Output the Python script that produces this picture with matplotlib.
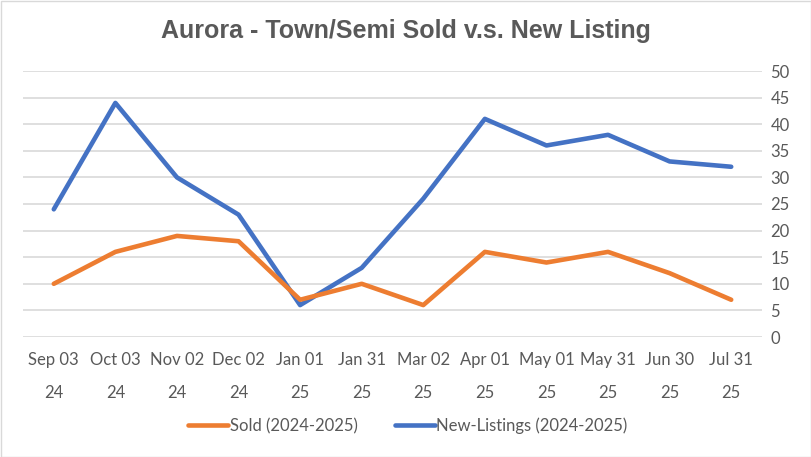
import matplotlib
matplotlib.use("Agg")
import matplotlib.pyplot as plt
from matplotlib.lines import Line2D
from matplotlib.patches import Rectangle

categories = ["Sep 03\n24", "Oct 03\n24", "Nov 02\n24", "Dec 02\n24", "Jan 01\n25", "Jan 31\n25",
              "Mar 02\n25", "Apr 01\n25", "May 01\n25", "May 31\n25", "Jun 30\n25", "Jul 31\n25"]
sold = [10, 16, 19, 18, 7, 10, 6, 16, 14, 16, 12, 7]
new_listings = [24, 44, 30, 23, 6, 13, 26, 41, 36, 38, 33, 32]
yticks = [0, 5, 10, 15, 20, 25, 30, 35, 40, 45, 50]

W, H = 812, 457
fig = plt.figure(figsize=(W / 100, H / 100), dpi=100)
fig.patch.set_facecolor("white")
fig.patches.append(Rectangle((0.5 / W, 0.5 / H), 1 - 1.5 / W, 1 - 1.5 / H, transform=fig.transFigure,
                             fill=False, edgecolor="#D9D9D9", linewidth=1))

ax = fig.add_axes([23 / W, 1 - 337 / H, (762 - 23) / W, (337 - 71) / H])
x = list(range(len(categories)))
ax.plot(x, new_listings, color="#4472C4", linewidth=3.3, solid_capstyle="round", solid_joinstyle="round", zorder=3)
ax.plot(x, sold, color="#ED7D31", linewidth=3.3, solid_capstyle="round", solid_joinstyle="round", zorder=3)

ax.set_xlim(-0.5, len(categories) - 0.5)
ax.set_ylim(0, 50)
ax.set_yticks(yticks)
ax.yaxis.tick_right()
ax.grid(axis="y", color="#D9D9D9", linewidth=1.2)
ax.set_axisbelow(True)
for s in ax.spines.values():
    s.set_visible(False)
ax.tick_params(axis="both", length=0, colors="#595959", labelsize=12)
ax.tick_params(axis="y", pad=6)
ax.set_xticks(x)
ax.set_xticklabels(categories, linespacing=2.25, fontfamily="Lato")
for lab in ax.get_yticklabels():
    lab.set_fontfamily("Lato")
ax.tick_params(axis="x", pad=11)

fig.text(406 / W, 1 - 31 / H, "Aurora - Town/Semi Sold v.s. New Listing", ha="center", va="center",
         fontsize=18, fontweight="bold", color="#595959", fontfamily="Liberation Sans")

handles = [Line2D([0], [0], color="#ED7D31", linewidth=3.3, solid_capstyle="round"),
           Line2D([0], [0], color="#4472C4", linewidth=3.3, solid_capstyle="round")]
leg = fig.legend(handles, ["Sold (2024-2025)", "New-Listings (2024-2025)"], loc="center",
                 bbox_to_anchor=(408 / W, 1 - 426 / H), ncol=2, frameon=False,
                 prop={"family": "Lato", "size": 12}, handlelength=2.4, handletextpad=0.1, columnspacing=2.2)
for t in leg.get_texts():
    t.set_color("#595959")

fig.savefig("out.png", dpi=100, facecolor="white")
